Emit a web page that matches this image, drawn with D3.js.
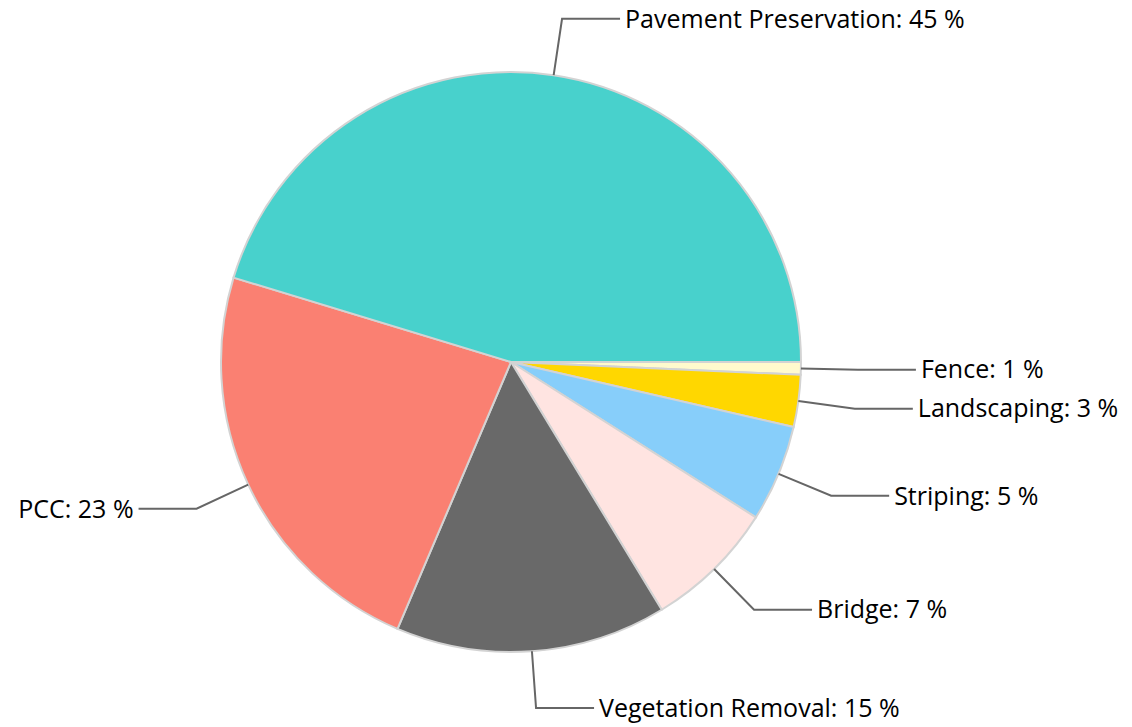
<!DOCTYPE html>
<html>
<head>
<meta charset="utf-8">
<title>Pie</title>
<style>
  body { margin: 0; background: #fff; }
  text { font-family: "Open Sans", sans-serif; }
</style>
</head>
<body>
<script src="https://cdn.jsdelivr.net/npm/d3@7"></script>
<script>
// slices listed clockwise starting at 3 o'clock
var categories = ["Fence", "Landscaping", "Striping", "Bridge", "Vegetation Removal", "PCC", "Pavement Preservation"];
var values = [0.7, 2.9, 5.4, 7.3, 15.1, 23.3, 45.3];
var colors = ["#FFFACD", "#FFD700", "#87CEFA", "#FFE4E1", "#696969", "#FA8072", "#48D1CC"];

var width = 1132, height = 727;
var cx = 511, cy = 362, radius = 290;
var elbowR = 347, hLen = 58;

var data = categories.map(function(c, i) { return {name: c, value: values[i], color: colors[i]}; });
var total = d3.sum(values);

var pie = d3.pie()
    .sort(null)
    .value(function(d) { return d.value; })
    .startAngle(Math.PI / 2)
    .endAngle(Math.PI / 2 + 2 * Math.PI);

var arc = d3.arc().innerRadius(0).outerRadius(radius);

var svg = d3.select("body").append("svg")
    .attr("width", width)
    .attr("height", height);

var g = svg.append("g").attr("transform", "translate(" + cx + "," + cy + ")");

var arcs = pie(data);

g.selectAll(".slice")
    .data(arcs)
    .enter()
    .append("path")
    .attr("class", "slice")
    .attr("d", arc)
    .attr("fill", function(d) { return d.data.color; })
    .attr("stroke", "#D3D3D3")
    .attr("stroke-width", 2);

function pt(a, r) {
    // d3 angles: 0 at 12 o'clock, clockwise
    return [r * Math.sin(a), -r * Math.cos(a)];
}

var labels = g.selectAll(".label")
    .data(arcs)
    .enter()
    .append("g")
    .attr("class", "label");

labels.append("polyline")
    .attr("fill", "none")
    .attr("stroke", "#666666")
    .attr("stroke-width", 2)
    .attr("points", function(d) {
        var mid = (d.startAngle + d.endAngle) / 2;
        var p0 = pt(mid, radius), p1 = pt(mid, elbowR);
        var side = p1[0] >= 0 ? 1 : -1;
        var p2 = [p1[0] + side * hLen, p1[1]];
        return [p0, p1, p2].map(function(p) { return p.join(","); }).join(" ");
    });

labels.append("text")
    .attr("x", function(d) {
        var mid = (d.startAngle + d.endAngle) / 2;
        var p1 = pt(mid, elbowR);
        var side = p1[0] >= 0 ? 1 : -1;
        return p1[0] + side * (hLen + 5);
    })
    .attr("y", function(d) {
        var mid = (d.startAngle + d.endAngle) / 2;
        return pt(mid, elbowR)[1];
    })
    .attr("dy", "0.35em")
    .attr("text-anchor", function(d) {
        var mid = (d.startAngle + d.endAngle) / 2;
        return pt(mid, elbowR)[0] >= 0 ? "start" : "end";
    })
    .attr("font-size", 25)
    .attr("fill", "#000")
    .text(function(d) { return d.data.name + ": " + Math.round(d.data.value / total * 100) + " %"; });
</script>
</body>
</html>
